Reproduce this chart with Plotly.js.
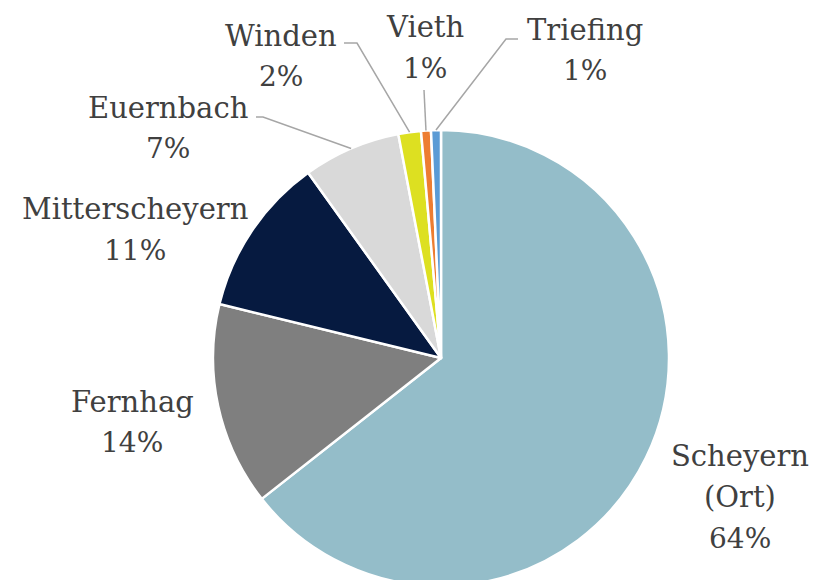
<!DOCTYPE html>
<html><head><meta charset="utf-8">
<script src="https://cdn.plot.ly/plotly-3.0.1.min.js"></script>
<style>html,body{margin:0;padding:0;overflow:hidden;background:#fff}</style>
</head><body><div id="chart" style="width:814px;height:600px"></div>
<script>
const labels = ["Scheyern<br>(Ort)", "Fernhag", "Mitterscheyern", "Euernbach", "Winden", "Vieth", "Triefing"];
const values = [64.4, 14.4, 11.3, 6.9, 1.6, 0.7, 0.7];
const colors = ["#94BDC9", "#7F7F7F", "#061A40", "#D9D9D9", "#DDE021", "#ED7D31", "#5B9BD5"];

// layout: label block centres (pixels) and leader-line start points (null = no leader)
const labelPos = [[740, 497], [132, 422], [135, 230], [168, 128], [281, 56], [425, 48], [585, 50]];
const leaderStart = [null, null, null, [[256, 117], [263, 117]], [[344, 43], [357, 43]], [[424, 90]], [[518, 39], [506, 39]]];
const lineGap = 41;

const W = 814, H = 600, cx = 441, cy = 358, r = 228;
const px = x => x / W, py = y => 1 - y / H;
const total = values.reduce((a, b) => a + b, 0);

const annotations = [], shapes = [];
let cum = 0;
values.forEach((v, i) => {
  const mid = (cum + v / 2) / total * 2 * Math.PI;
  cum += v;
  const pct = Math.round(v / total * 100);
  const lines = labels[i].split("<br>").concat([pct + "%"]);
  lines.forEach((t, k) => {
    annotations.push({
      xref: "paper", yref: "paper",
      x: px(labelPos[i][0]), y: py(labelPos[i][1] + (k - (lines.length - 1) / 2) * lineGap),
      xanchor: "center", yanchor: "middle", showarrow: false,
      text: t,
      font: {family: "DejaVu Serif", size: k < lines.length - 1 ? 29 : 28, color: "#404040"}
    });
  });
  if (leaderStart[i]) {
    const pts = leaderStart[i].concat([[cx + r * Math.sin(mid), cy - r * Math.cos(mid)]]);
    let path = "";
    pts.forEach((p, k) => { path += (k ? " L " : "M ") + px(p[0]) + "," + py(p[1]); });
    shapes.push({type: "path", xref: "paper", yref: "paper", path: path,
      line: {color: "#A6A6A6", width: 1.5}});
  }
});

Plotly.newPlot("chart", [{
  type: "pie",
  labels: labels,
  values: values,
  sort: false,
  direction: "clockwise",
  rotation: 0,
  marker: {colors: colors, line: {color: "#FFFFFF", width: 2.5}},
  textinfo: "none",
  domain: {x: [(cx - r) / W, (cx + r) / W], y: [(H - cy - r) / H, (H - cy + r) / H]},
  automargin: false,
  hoverinfo: "none"
}], {
  width: W, height: H,
  margin: {l: 0, r: 0, t: 0, b: 0},
  showlegend: false,
  paper_bgcolor: "#FFFFFF",
  font: {family: "DejaVu Serif", color: "#404040"},
  annotations: annotations,
  shapes: shapes
}, {staticPlot: true});
</script></body></html>
